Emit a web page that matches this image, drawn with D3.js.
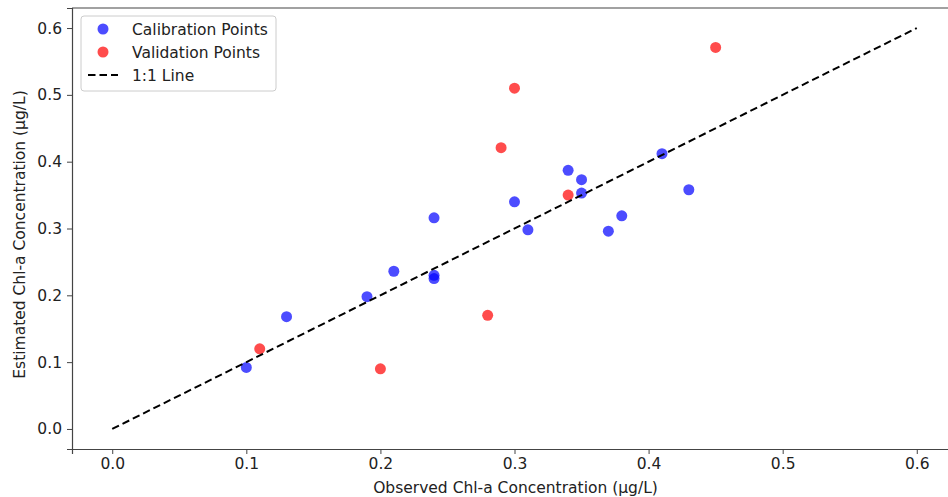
<!DOCTYPE html>
<html>
<head>
<meta charset="utf-8">
<script src="https://cdn.jsdelivr.net/npm/d3@7/dist/d3.min.js"></script>
<style>
  body { margin: 0; background: #fff; }
  svg { display: block; font-family: "DejaVu Sans", sans-serif; }
</style>
</head>
<body>
<script>
// observed vs estimated chl-a scatter

// calibration set
var calObserved = [0.10, 0.13, 0.19, 0.21, 0.24, 0.24, 0.24, 0.30, 0.31, 0.34, 0.35, 0.35, 0.37, 0.38, 0.41, 0.43];
var calEstimated = [0.092, 0.168, 0.198, 0.236, 0.316, 0.230, 0.225, 0.340, 0.298, 0.387, 0.373, 0.353, 0.296, 0.319, 0.412, 0.358];

// validation set
var valObserved = [0.11, 0.20, 0.28, 0.29, 0.30, 0.34, 0.45];
var valEstimated = [0.120, 0.090, 0.170, 0.421, 0.510, 0.350, 0.571];

var lineEnds = [0, 0.6];
var tickValues = [0, 0.1, 0.2, 0.3, 0.4, 0.5, 0.6];
var legendLabels = ['Calibration Points', 'Validation Points', '1:1 Line'];

var width = 948,
    height = 497,
    fontSize = '15.5px',
    margin = {top: 8, left: 72, right: 957, bottom: 449};

var svg = d3.select('body').append('svg')
  .attr('width', width)
  .attr('height', height);

var xScale = d3.scaleLinear().domain([-0.03, 0.63]).range([margin.left, margin.right]);
var yScale = d3.scaleLinear().domain([-0.03, 0.63]).range([margin.bottom, margin.top]);

var calData = calObserved.map(function(d, i){ return {x: d, y: calEstimated[i]}; });
var valData = valObserved.map(function(d, i){ return {x: d, y: valEstimated[i]}; });

var fmt = d3.format('.1f');

// axes
var xAxis = svg.append('g')
  .attr('transform', 'translate(0,' + margin.bottom + ')')
  .call(d3.axisBottom(xScale).tickValues(tickValues).tickFormat(fmt).tickSize(5).tickPadding(4));
var yAxis = svg.append('g')
  .attr('transform', 'translate(' + margin.left + ',0)')
  .call(d3.axisLeft(yScale).tickValues(tickValues).tickFormat(fmt).tickSize(5).tickPadding(5));

[xAxis, yAxis].forEach(function(a){
  a.select('.domain').attr('stroke', '#444').attr('stroke-width', 1.2);
  a.selectAll('.tick line').attr('stroke', '#444').attr('stroke-width', 1);
  a.selectAll('.tick text').attr('fill', '#222').style('font-size', fontSize).style('font-family', '"DejaVu Sans", sans-serif');
});

// top spine
svg.append('line')
  .attr('x1', margin.left).attr('x2', margin.right)
  .attr('y1', margin.top).attr('y2', margin.top)
  .attr('stroke', '#444').attr('stroke-width', 1.2);

// axis titles
svg.append('text')
  .attr('x', (xScale(0) + xScale(0.6)) / 2 + 1)
  .attr('y', 493)
  .attr('text-anchor', 'middle')
  .attr('fill', '#222')
  .style('font-size', fontSize)
  .text('Observed Chl-a Concentration (µg/L)');

svg.append('text')
  .attr('transform', 'translate(25,' + ((yScale(0) + yScale(0.6)) / 2 + 6) + ') rotate(-90)')
  .attr('text-anchor', 'middle')
  .attr('fill', '#222')
  .style('font-size', fontSize)
  .text('Estimated Chl-a Concentration (µg/L)');

// points
svg.selectAll('circle.cal').data(calData)
  .enter().append('circle').attr('class', 'cal')
  .attr('cx', function(d){ return xScale(d.x); })
  .attr('cy', function(d){ return yScale(d.y); })
  .attr('r', 5.5)
  .attr('fill', 'blue')
  .attr('fill-opacity', 0.7);

svg.selectAll('circle.val').data(valData)
  .enter().append('circle').attr('class', 'val')
  .attr('cx', function(d){ return xScale(d.x); })
  .attr('cy', function(d){ return yScale(d.y); })
  .attr('r', 5.5)
  .attr('fill', 'red')
  .attr('fill-opacity', 0.7);

// 1:1 line
svg.append('line')
  .attr('x1', xScale(lineEnds[0])).attr('y1', yScale(lineEnds[0]))
  .attr('x2', xScale(lineEnds[1])).attr('y2', yScale(lineEnds[1]))
  .attr('stroke', 'black')
  .attr('stroke-width', 2)
  .attr('stroke-dasharray', '7.5,4');

// legend
var legend = svg.append('g').attr('transform', 'translate(81,16)');
legend.append('rect')
  .attr('width', 195).attr('height', 75)
  .attr('rx', 3)
  .attr('fill', 'white').attr('fill-opacity', 0.8)
  .attr('stroke', '#ccc');

legendLabels.forEach(function(label, i){
  var y = 13 + i * 23;
  if (i < 2) {
    legend.append('circle')
      .attr('cx', 22).attr('cy', y)
      .attr('r', 5.5)
      .attr('fill', i === 0 ? 'blue' : 'red')
      .attr('fill-opacity', 0.7);
  } else {
    legend.append('line')
      .attr('x1', 7).attr('x2', 37)
      .attr('y1', y).attr('y2', y)
      .attr('stroke', 'black').attr('stroke-width', 2)
      .attr('stroke-dasharray', '7.5,4');
  }
  legend.append('text')
    .attr('x', 51).attr('y', y + 5.5)
    .attr('fill', '#222')
    .style('font-size', fontSize)
    .text(label);
});
</script>
</body>
</html>
